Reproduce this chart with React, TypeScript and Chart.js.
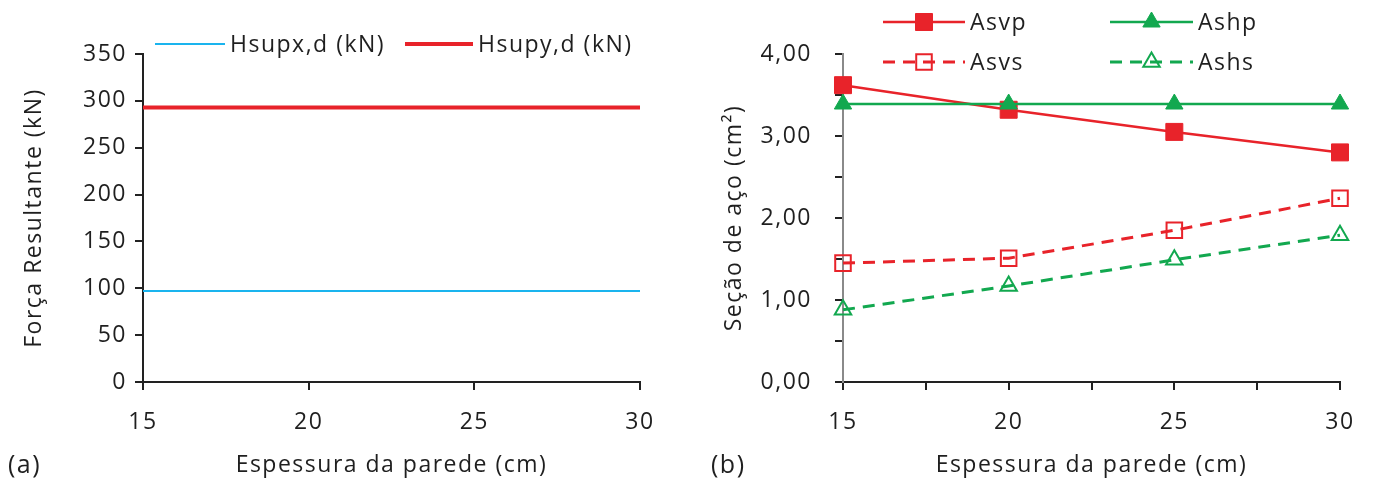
import React, { useEffect, useRef } from 'react';
import { Chart, registerables } from 'chart.js';
import { drawPoint } from 'chart.js/helpers';
Chart.register(...registerables);

// ---------- data ----------
const thickness = [15, 20, 25, 30];
const hsupx = [97, 97, 97, 97];
const hsupy = [293, 293, 293, 293];
const asvp = [3.62, 3.32, 3.05, 2.8];
const ashp = [3.39, 3.39, 3.39, 3.39];
const asvs = [1.45, 1.51, 1.85, 2.24];
const ashs = [0.88, 1.17, 1.49, 1.79];

const leftSeriesLabels = ['Hsupx,d (kN)', 'Hsupy,d (kN)'];
const rightSeriesLabels = ['Asvp', 'Ashp', 'Asvs', 'Ashs'];
const xTitle = 'Espessura da parede (cm)';
const yTitleA = 'Força Resultante (kN)';
const yTitleB = 'Seção de aço (cm²)';
const panelLabels = ['(a)', '(b)'];

// ---------- style ----------
const FONT = "'Open Sans', 'DejaVu Sans', sans-serif";
const TEXT = '#1f1f1f';
const AXIS = '#222222';
const AXIS_B = '#8a8a8a';
const RED = '#e8232a';
const GREEN = '#12a84f';
const BLUE = '#1ab4ee';
const FS = 23;
const SPACING = '1.5px';

const pts = (ys: number[]) => thickness.map((x, i) => ({ x, y: ys[i] }));

type LegendItem = { ds: number; x: number; y: number; len: number };

const spacingPlugin = {
  id: 'letterSpacing',
  beforeUpdate(chart: any) {
    (chart.ctx as any).letterSpacing = SPACING;
  },
  beforeDraw(chart: any) {
    (chart.ctx as any).letterSpacing = SPACING;
  },
};

const makeLegendPlugin = (items: LegendItem[], panel: string, panelX: number) => ({
  id: 'customLegend',
  afterDraw(chart: any) {
    const ctx = chart.ctx;
    ctx.save();
    items.forEach((it) => {
      const ds: any = chart.data.datasets[it.ds];
      ctx.save();
      ctx.strokeStyle = ds.borderColor;
      ctx.lineWidth = ds.borderWidth;
      ctx.setLineDash(ds.borderDash || []);
      ctx.beginPath();
      ctx.moveTo(it.x, it.y);
      ctx.lineTo(it.x + it.len, it.y);
      ctx.stroke();
      ctx.setLineDash([]);
      if (ds.pointRadius > 0) {
        ctx.fillStyle = ds.pointBackgroundColor;
        ctx.strokeStyle = ds.pointBorderColor;
        ctx.lineWidth = ds.pointBorderWidth;
        drawPoint(
          ctx,
          { pointStyle: ds.pointStyle, radius: ds.pointRadius, borderWidth: ds.pointBorderWidth, rotation: 0 } as any,
          it.x + it.len / 2,
          it.y
        );
      }
      ctx.fillStyle = TEXT;
      ctx.font = `${FS}px ${FONT}`;
      ctx.textBaseline = 'middle';
      ctx.textAlign = 'left';
      ctx.fillText(ds.label, it.x + it.len + 5, it.y + 1);
      ctx.restore();
    });
    ctx.fillStyle = TEXT;
    ctx.font = `${FS + 2}px ${FONT}`;
    ctx.textBaseline = 'middle';
    ctx.textAlign = 'left';
    ctx.fillText(panel, panelX, 466);
    ctx.restore();
  },
});

const baseScale = (title: string, axisColor: string) => ({
  type: 'linear' as const,
  border: { display: true, color: axisColor, width: 2 },
  grid: { drawOnChartArea: false, drawTicks: true, tickLength: 8, color: AXIS, lineWidth: 2 },
  title: { display: true, text: title, color: TEXT, font: { family: FONT, size: FS } },
  ticks: { color: TEXT, font: { family: FONT, size: FS } },
});

function ChartA() {
  const ref = useRef<HTMLCanvasElement>(null);
  useEffect(() => {
    const bx = baseScale(xTitle, AXIS);
    const by = baseScale(yTitleA, AXIS);
    const chart = new Chart(ref.current!, {
      type: 'line',
      data: {
        datasets: [
          {
            label: leftSeriesLabels[0],
            data: pts(hsupx),
            borderColor: BLUE,
            borderWidth: 2,
            pointRadius: 0,
            clip: false,
          },
          {
            label: leftSeriesLabels[1],
            data: pts(hsupy),
            borderColor: RED,
            borderWidth: 4,
            pointRadius: 0,
            clip: false,
          },
        ] as any,
      },
      options: {
        animation: false,
        responsive: true,
        maintainAspectRatio: false,
        devicePixelRatio: 1,
        layout: { padding: { top: 54, right: 47, left: 0, bottom: 0 } },
        plugins: { legend: { display: false }, tooltip: { enabled: false } },
        scales: {
          x: {
            ...bx,
            min: 15,
            max: 30,
            title: { ...bx.title, padding: { top: 0, bottom: 6 } },
            ticks: { ...bx.ticks, stepSize: 5, padding: 19, maxRotation: 0 },
            afterFit: (s: any) => {
              s.height = 103;
            },
          },
          y: {
            ...by,
            min: 0,
            max: 350,
            title: { ...by.title, padding: { top: 21, bottom: 0 } },
            ticks: {
              ...by.ticks,
              stepSize: 25,
              padding: 8,
              callback: (v: any) => (Number(v) % 50 === 0 ? String(v) : ''),
            },
            afterFit: (s: any) => {
              s.width = 143;
            },
          },
        } as any,
      },
      plugins: [
        spacingPlugin,
        makeLegendPlugin(
          [
            { ds: 0, x: 155, y: 44, len: 70 },
            { ds: 1, x: 405, y: 44, len: 68 },
          ],
          panelLabels[0],
          8
        ),
      ],
    });
    return () => chart.destroy();
  }, []);
  return (
    <div style={{ position: 'relative', width: 687, height: 485 }}>
      <canvas ref={ref} />
    </div>
  );
}

function ChartB() {
  const ref = useRef<HTMLCanvasElement>(null);
  useEffect(() => {
    const bx = baseScale(xTitle, AXIS);
    const by = baseScale(yTitleB, AXIS_B);
    const chart = new Chart(ref.current!, {
      type: 'line',
      data: {
        datasets: [
          {
            label: rightSeriesLabels[0],
            data: pts(asvp),
            borderColor: RED,
            borderWidth: 2.5,
            pointStyle: 'rect',
            pointRadius: 12,
            pointBorderWidth: 1,
            pointBackgroundColor: RED,
            pointBorderColor: RED,
            order: 2,
            clip: false,
          },
          {
            label: rightSeriesLabels[1],
            data: pts(ashp),
            borderColor: GREEN,
            borderWidth: 2.5,
            pointStyle: 'triangle',
            pointRadius: 10,
            pointBorderWidth: 1,
            pointBackgroundColor: GREEN,
            pointBorderColor: GREEN,
            order: 1,
            clip: false,
          },
          {
            label: rightSeriesLabels[2],
            data: pts(asvs),
            borderColor: RED,
            borderWidth: 3,
            borderDash: [12, 8],
            pointStyle: 'rect',
            pointRadius: 11,
            pointBorderWidth: 2,
            pointBackgroundColor: 'rgba(0,0,0,0)',
            pointBorderColor: RED,
            order: 3,
            clip: false,
          },
          {
            label: rightSeriesLabels[3],
            data: pts(ashs),
            borderColor: GREEN,
            borderWidth: 3,
            borderDash: [12, 8],
            pointStyle: 'triangle',
            pointRadius: 9.5,
            pointBorderWidth: 2,
            pointBackgroundColor: 'rgba(0,0,0,0)',
            pointBorderColor: GREEN,
            order: 4,
            clip: false,
          },
        ] as any,
      },
      options: {
        animation: false,
        responsive: true,
        maintainAspectRatio: false,
        devicePixelRatio: 1,
        layout: { padding: { top: 54, right: 34, left: 0, bottom: 0 } },
        plugins: { legend: { display: false }, tooltip: { enabled: false } },
        scales: {
          x: {
            ...bx,
            min: 15,
            max: 30,
            title: { ...bx.title, padding: { top: 0, bottom: 6 } },
            ticks: {
              ...bx.ticks,
              stepSize: 2.5,
              padding: 19,
              maxRotation: 0,
              autoSkip: false,
              callback: (v: any) => (Number(v) % 5 === 0 ? String(v) : ''),
            },
            afterFit: (s: any) => {
              s.height = 103;
            },
          },
          y: {
            ...by,
            min: 0,
            max: 4,
            title: { ...by.title, padding: { top: 34, bottom: 0 } },
            ticks: {
              ...by.ticks,
              stepSize: 0.5,
              padding: 23,
              callback: (v: any) =>
                Number(v) % 1 === 0 ? Number(v).toFixed(2).replace('.', ',') : '',
            },
            afterFit: (s: any) => {
              s.width = 156;
            },
          },
        } as any,
      },
      plugins: [
        spacingPlugin,
        makeLegendPlugin(
          [
            { ds: 0, x: 196, y: 22, len: 82 },
            { ds: 1, x: 423, y: 22, len: 83 },
            { ds: 2, x: 196, y: 62, len: 82 },
            { ds: 3, x: 423, y: 62, len: 83 },
          ],
          panelLabels[1],
          24
        ),
      ],
    });
    return () => chart.destroy();
  }, []);
  return (
    <div style={{ position: 'relative', width: 687, height: 485 }}>
      <canvas ref={ref} />
    </div>
  );
}

export default function App() {
  return (
    <div
      style={{
        position: 'absolute',
        left: 0,
        top: 0,
        width: 1374,
        height: 485,
        display: 'flex',
        background: '#fff',
      }}
    >
      <ChartA />
      <ChartB />
    </div>
  );
}
